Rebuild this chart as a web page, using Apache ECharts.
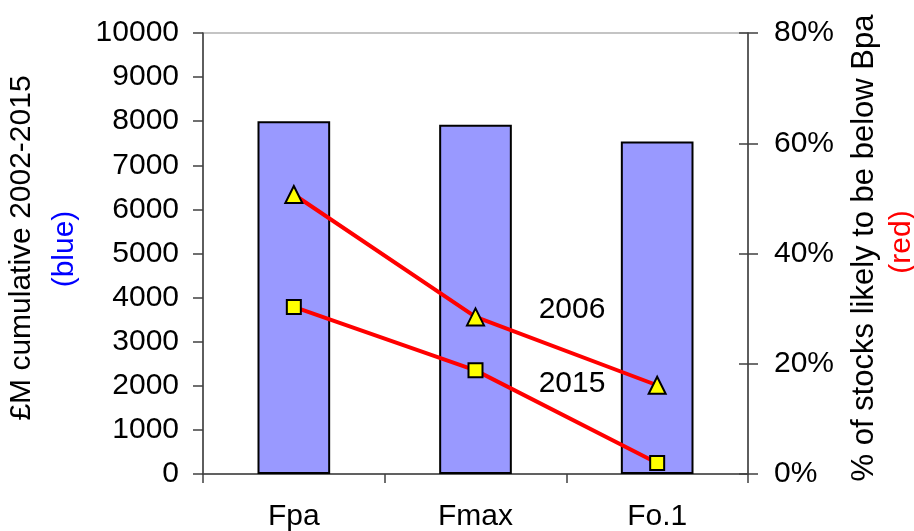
<!DOCTYPE html>
<html>
<head>
<meta charset="utf-8">
<script src="https://cdn.jsdelivr.net/npm/echarts@6/dist/echarts.min.js"></script>
<style>
html,body{margin:0;padding:0;background:#fff;}
#chart{width:914px;height:531px;}
</style>
</head>
<body>
<div id="chart"></div>
<script>
// ---- data ----
var categories = ['Fpa', 'Fmax', 'Fo.1'];
var costValues = [8000, 7920, 7540];          // £M cumulative 2002-2015 (blue bars)
var pct2006 = [50.7, 28.5, 16.1];             // % stocks below Bpa, 2006 (triangles)
var pct2015 = [30.3, 18.8, 2.0];              // % stocks below Bpa, 2015 (squares)
var leftTicks = {min: 0, max: 10000, interval: 1000};
var rightTicks = {min: 0, max: 80, interval: 20};
var seriesNames = ['2006', '2015'];

var FONT = '"Liberation Sans", Arial, sans-serif';
var FS = 30;
var chart = echarts.init(document.getElementById('chart'), null, {renderer: 'canvas'});

var axisLineStyle = {color: '#404040', width: 1.5};

var option = {
  animation: false,
  backgroundColor: '#ffffff',
  textStyle: {fontFamily: FONT},
  grid: {left: 203, right: 166, top: 33, bottom: 57, containLabel: false, outerBoundsMode: 'none',
    show: true, borderColor: '#8a8a8a', borderWidth: 1.2, backgroundColor: 'transparent'},
  xAxis: {
    type: 'category',
    data: categories,
    boundaryGap: true,
    axisLine: {show: true, lineStyle: axisLineStyle},
    axisTick: {show: true, length: 9, interval: 0, lineStyle: axisLineStyle},
    axisLabel: {fontFamily: FONT, fontSize: FS, color: '#000', margin: 28, interval: 0},
    splitLine: {show: false}
  },
  yAxis: [
    {
      type: 'value', position: 'left',
      min: leftTicks.min, max: leftTicks.max, interval: leftTicks.interval,
      axisLine: {show: true, lineStyle: axisLineStyle},
      axisTick: {show: true, length: 10, lineStyle: axisLineStyle},
      axisLabel: {fontFamily: FONT, fontSize: FS, color: '#000', margin: 24,
        formatter: function (v) { return String(v); }},
      splitLine: {show: false}
    },
    {
      type: 'value', position: 'right',
      min: rightTicks.min, max: rightTicks.max, interval: rightTicks.interval,
      axisLine: {show: true, lineStyle: axisLineStyle},
      axisTick: {show: true, length: 10, lineStyle: axisLineStyle},
      axisLabel: {fontFamily: FONT, fontSize: FS, color: '#000', margin: 26, formatter: '{value}%'},
      splitLine: {show: false}
    },
    {
      type: 'value', position: 'right',
      min: rightTicks.min, max: rightTicks.max, interval: rightTicks.interval,
      axisLine: {show: false},
      axisTick: {show: true, inside: true, length: 9, lineStyle: axisLineStyle},
      axisLabel: {show: false},
      splitLine: {show: false}
    }
  ],
  series: [
    {
      name: 'Cost', type: 'bar', yAxisIndex: 0,
      data: costValues, barWidth: '40%',
      itemStyle: {color: '#9999ff', borderColor: '#000', borderWidth: 2},
      z: 2
    },
    {
      name: seriesNames[0], type: 'line', yAxisIndex: 1,
      data: pct2006,
      symbol: 'triangle', symbolSize: 17,
      lineStyle: {color: '#ff0000', width: 4},
      itemStyle: {color: '#ffff00', borderColor: '#000', borderWidth: 2},
      z: 3
    },
    {
      name: seriesNames[1], type: 'line', yAxisIndex: 1,
      data: pct2015,
      symbol: 'rect', symbolSize: 14,
      lineStyle: {color: '#ff0000', width: 4},
      itemStyle: {color: '#ffff00', borderColor: '#000', borderWidth: 2},
      z: 3
    }
  ],
  graphic: [
    {type: 'text', x: 22, y: 248, rotation: Math.PI / 2,
      style: {text: '£M cumulative 2002-2015', font: '30px ' + FONT, fill: '#000', align: 'center', verticalAlign: 'middle'}},
    {type: 'text', x: 65, y: 249, rotation: Math.PI / 2,
      style: {text: '(blue)', font: '30px ' + FONT, fill: '#0000ff', align: 'center', verticalAlign: 'middle'}},
    {type: 'text', x: 864, y: 248, rotation: Math.PI / 2,
      style: {text: '% of stocks likely to be below Bpa', font: '31px ' + FONT, fill: '#000', align: 'center', verticalAlign: 'middle'}},
    {type: 'text', x: 902, y: 242, rotation: Math.PI / 2,
      style: {text: '(red)', font: '30px ' + FONT, fill: '#ff0000', align: 'center', verticalAlign: 'middle'}},
    {type: 'text', x: 572, y: 310,
      style: {text: seriesNames[0], font: FS + 'px ' + FONT, fill: '#000', align: 'center', verticalAlign: 'middle'}},
    {type: 'text', x: 572, y: 384,
      style: {text: seriesNames[1], font: FS + 'px ' + FONT, fill: '#000', align: 'center', verticalAlign: 'middle'}}
  ]
};
chart.setOption(option);
</script>
</body>
</html>
